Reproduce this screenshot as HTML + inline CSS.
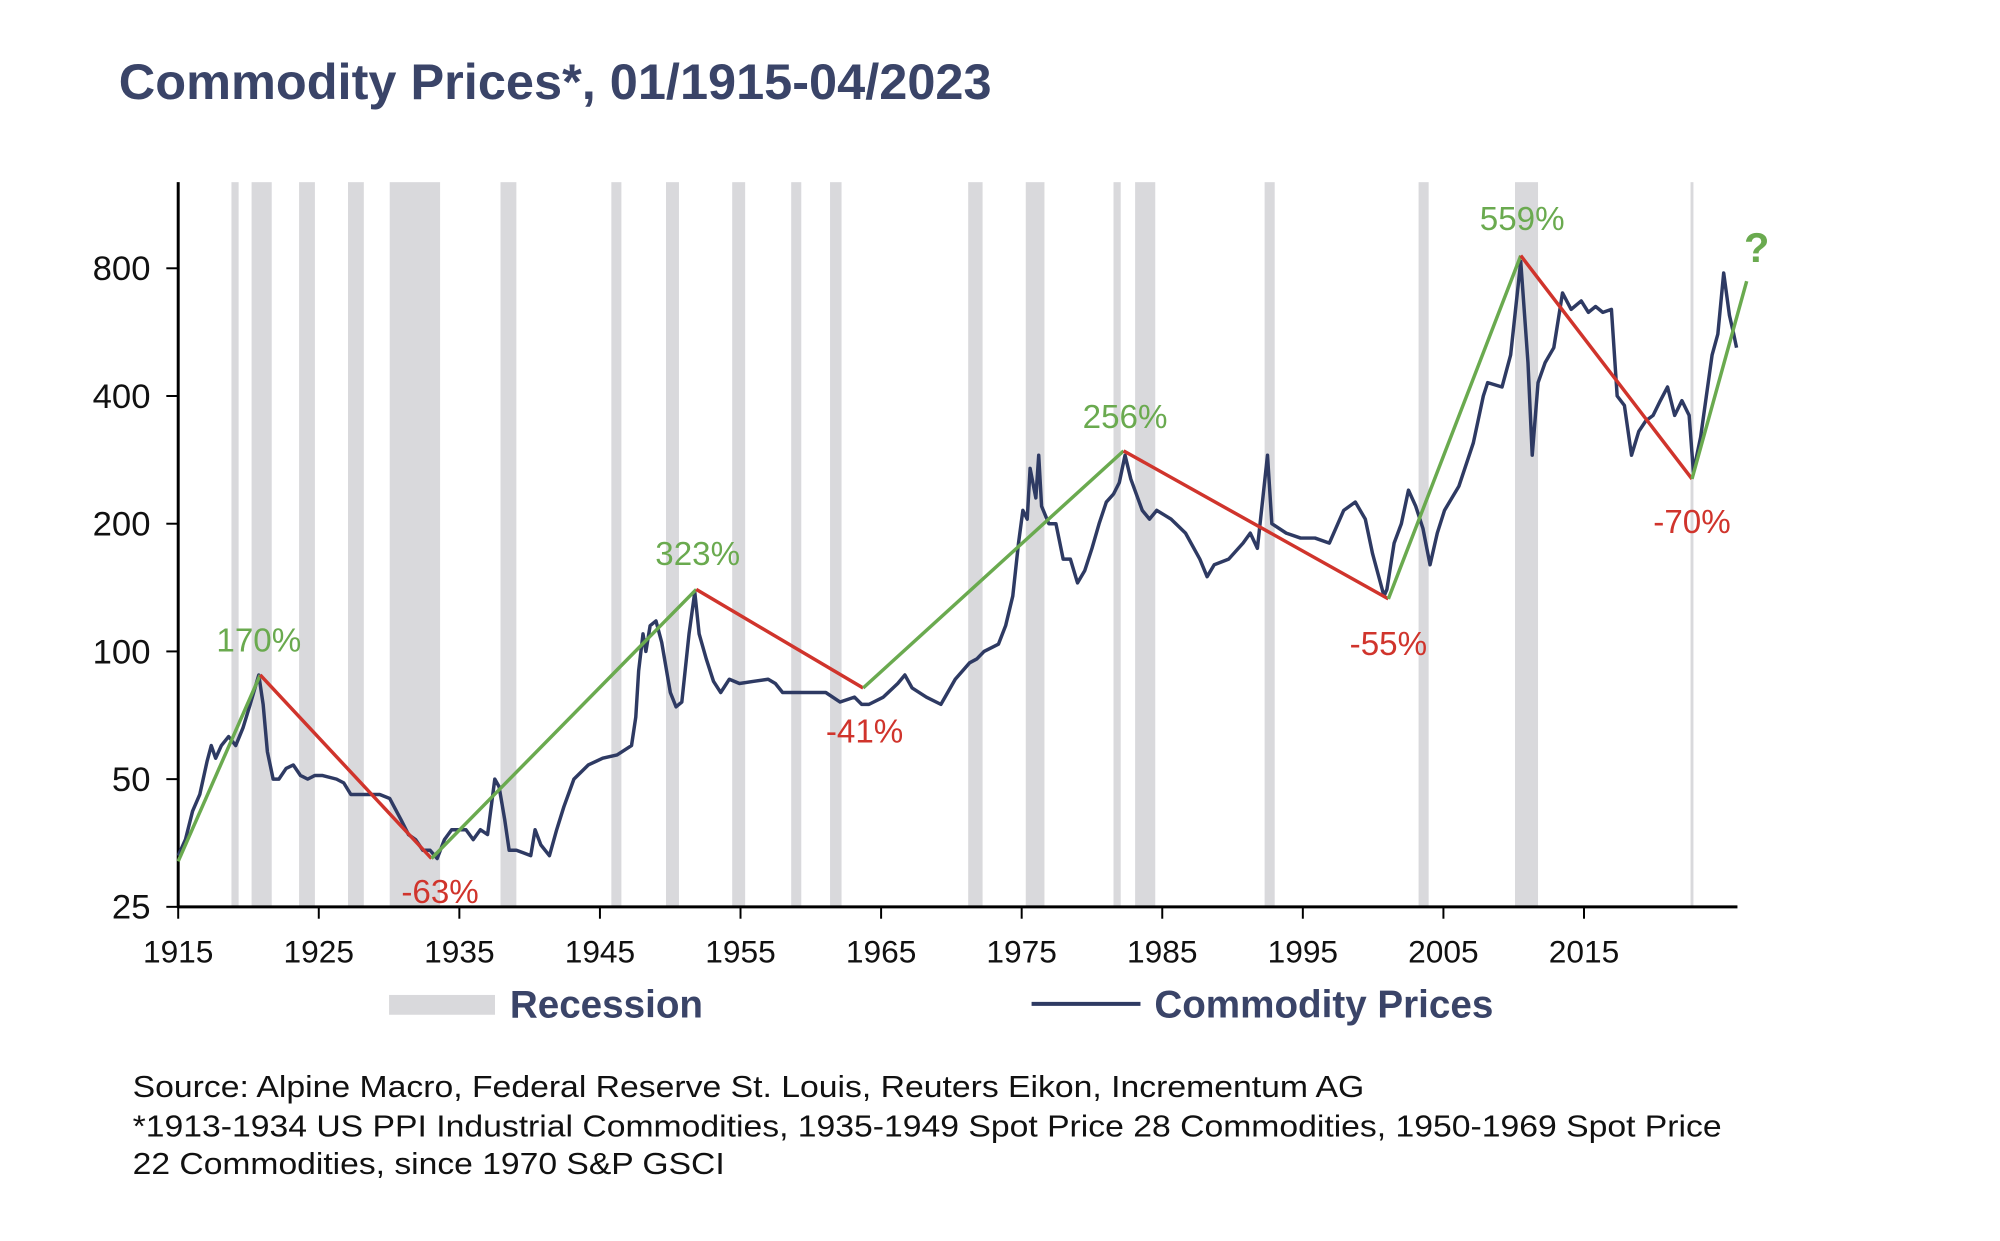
<!DOCTYPE html>
<html><head><meta charset="utf-8"><style>
html,body{margin:0;padding:0;background:#fff;}
svg{display:block;font-family:"Liberation Sans",Arial,sans-serif;}
</style></head><body>
<svg id="chart" width="2000" height="1241" viewBox="0 0 2000 1241">
<g transform="scale(0.99)">
<text x="120" y="100" font-size="51" font-weight="bold" fill="#3a4468">Commodity Prices*, 01/1915-04/2023</text>
<g id="bands"></g>
<g id="axes"></g>
<g id="series"></g>
<g id="annot"></g>
<g>
<rect x="393" y="1005" width="107" height="20" fill="#d9d9dc"/>
<text x="515" y="1028" font-size="39" font-weight="bold" fill="#3a4468">Recession</text>
<line x1="1042" y1="1014" x2="1152" y2="1014" stroke="#2e3a63" stroke-width="4"/>
<text x="1166" y="1028" font-size="39" font-weight="bold" fill="#3a4468">Commodity Prices</text>
</g>
<g font-size="31" fill="#111">
<text x="134" y="1108" textLength="1244" lengthAdjust="spacingAndGlyphs">Source: Alpine Macro, Federal Reserve St. Louis, Reuters Eikon, Incrementum AG</text>
<text x="134" y="1148" textLength="1605" lengthAdjust="spacingAndGlyphs">*1913-1934 US PPI Industrial Commodities, 1935-1949 Spot Price 28 Commodities, 1950-1969 Spot Price</text>
<text x="134" y="1186" textLength="598" lengthAdjust="spacingAndGlyphs">22 Commodities, since 1970 S&amp;P GSCI</text>
</g>
</g>
</svg>
<script>
const years=[1915,1915.5,1916,1916.5,1917,1917.3,1917.6,1918,1918.5,1919,1919.5,1920,1920.6,1920.9,1921.2,1921.6,1922,1922.5,1923,1923.5,1924,1924.5,1925,1926,1926.5,1927,1928,1929,1929.7,1930.5,1931,1931.5,1932,1932.5,1933,1933.5,1934,1935,1935.5,1936,1936.5,1937,1937.3,1937.7,1938,1938.5,1939,1939.5,1939.8,1940.2,1940.8,1941.3,1941.8,1942.5,1943.5,1944.5,1945.5,1946.5,1946.8,1947,1947.3,1947.5,1947.8,1948.2,1948.6,1949.2,1949.6,1950,1950.5,1950.9,1951.2,1951.7,1952.2,1952.7,1953.3,1954,1955,1956,1956.5,1957,1958,1959,1960,1961,1962,1962.5,1963,1964,1965,1965.5,1966,1967,1968,1969,1970,1970.5,1971,1972,1972.5,1973,1973.4,1973.7,1974,1974.2,1974.6,1974.8,1975,1975.5,1976,1976.5,1977,1977.5,1978,1978.5,1979,1979.5,1980,1980.4,1980.8,1981.2,1982,1982.5,1983,1983.5,1984,1985,1986,1986.5,1987,1988,1989,1989.5,1990,1990.7,1991,1992,1993,1994,1995,1996,1996.8,1997.5,1998,1998.8,1999,1999.5,2000,2000.5,2001,2001.5,2002,2002.5,2003,2004,2005,2005.7,2006,2007,2007.6,2008.3,2008.8,2009.1,2009.5,2010,2010.6,2011.2,2011.8,2012.5,2013,2013.5,2014,2014.6,2015,2015.5,2016,2016.5,2017,2017.5,2018,2018.5,2019,2019.5,2020,2020.3,2020.8,2021.2,2021.6,2022,2022.4,2022.8,2023.1,2023.3];
const prices=[33,36,42,46,55,60,56,60,63,60,66,75,88,75,58,50,50,53,54,51,50,51,51,50,49,46,46,46,45,40,37,36,34,34,32.5,36,38,38,36,38,37,50,48,40,34,34,33.5,33,38,35,33,38,43,50,54,56,57,60,70,90,110,100,115,118,105,80,74,76,110,138,110,96,85,80,86,84,85,86,84,80,80,80,80,76,78,75,75,78,84,88,82,78,75,86,94,96,100,104,115,135,180,215,205,270,230,290,220,200,200,165,165,145,155,175,200,225,235,250,290,255,215,205,215,210,205,190,165,150,160,165,180,190,175,290,200,190,185,185,180,215,225,205,170,135,140,180,200,240,220,195,160,190,215,245,310,400,430,420,500,830,480,290,430,480,520,700,640,670,630,650,630,640,400,380,290,330,350,360,390,420,360,390,360,265,320,400,500,560,780,620,560,520];
const recStart=[1918.7,1920.1,1923.4,1926.8,1929.7,1937.4,1945.1,1948.9,1953.5,1957.6,1960.3,1969.9,1973.9,1980.0,1981.5,1990.5,2001.2,2007.9,2020.1];
const recEnd=[1919.2,1921.5,1924.5,1927.9,1933.2,1938.5,1945.8,1949.8,1954.4,1958.3,1961.1,1970.9,1975.2,1980.5,1982.9,1991.2,2001.9,2009.5,2020.3];
const yTicks=[25,50,100,200,400,800];
const xTickLabels=[1915,1925,1935,1945,1955,1965,1975,1985,1995,2005,2015];
const trendYears=[1915,1920.7,1932.6,1951,1962.6,1980.7,1999.1,2008.3,2020.2,2024.0];
const trendVals=[32,88,32.5,140,82,297,133,857,255,746];
const annLabels=["170%","-63%","323%","-41%","256%","-55%","559%","-70%","?"];
const annYears=[1920.6,1933.2,1951.1,1962.7,1980.8,1999.1,2008.4,2020.2,2024.7];
const annVals=[100,25.5,160,61,336,98,985,190,828];

const NS="http://www.w3.org/2000/svg";
const X0=180,PX=14.535,XT=14.2,Y25=916,PD=129,TOP=184,RIGHT=1755;
function x(yr){return X0+(yr-1915)*PX;}
function xt(yr){return X0+(yr-1915)*XT;}
function y(v){return Y25-PD*Math.log2(v/25);}
function mk(tag,attrs,parent){const e=document.createElementNS(NS,tag);for(const k in attrs)e.setAttribute(k,attrs[k]);parent.appendChild(e);return e;}
const bands=document.getElementById('bands'),axes=document.getElementById('axes'),series=document.getElementById('series'),annot=document.getElementById('annot');
for(let i=0;i<recStart.length;i++){
  const r=mk('rect',{x:x(recStart[i]),y:TOP,width:Math.max(2,x(recEnd[i])-x(recStart[i])),height:Y25-TOP,fill:'#d9d9dc'},bands);
  
  
}
const ya=mk('line',{x1:X0,y1:TOP,x2:X0,y2:Y25+1,stroke:'#000','stroke-width':3},axes);


const xa=mk('line',{x1:X0-1,y1:Y25,x2:RIGHT,y2:Y25,stroke:'#000','stroke-width':3},axes);


yTicks.forEach(v=>{
  mk('line',{x1:X0-12,y1:y(v),x2:X0,y2:y(v),stroke:'#000','stroke-width':2},axes);
  const t=mk('text',{x:152,y:y(v)+12,'font-size':35,'text-anchor':'end',fill:'#111'},axes);
  t.textContent=v;
  
  
});
xTickLabels.forEach(v=>{
  mk('line',{x1:xt(v),y1:Y25,x2:xt(v),y2:Y25+12,stroke:'#000','stroke-width':2},axes);
  const t=mk('text',{x:xt(v),y:972,'font-size':32,'text-anchor':'middle',fill:'#111'},axes);
  t.textContent=v;
  
  
});
const pl=mk('polyline',{points:years.map((yr,i)=>x(yr).toFixed(1)+','+y(prices[i]).toFixed(1)).join(' '),fill:'none',stroke:'#2e3a63','stroke-width':3.5,'stroke-linejoin':'round'},series);


for(let i=0;i<trendYears.length-1;i++){
  const up=trendVals[i+1]>trendVals[i];
  const l=mk('line',{x1:x(trendYears[i]),y1:y(trendVals[i]),x2:x(trendYears[i+1]),y2:y(trendVals[i+1]),stroke:up?'#6aaa4f':'#d0342c','stroke-width':3.5},annot);
  
  
}
annLabels.forEach((s,i)=>{
  const q=s==='?';
  const green=q||s.charAt(0)!=='-';
  const t=mk('text',{x:x(annYears[i]),y:y(annVals[i]),'font-size':q?42:33.5,'font-weight':q?'bold':'normal','text-anchor':'middle',fill:green?'#6aaa4f':'#d0342c'},annot);
  t.textContent=s;
  
  
});
</script>
</body></html>
